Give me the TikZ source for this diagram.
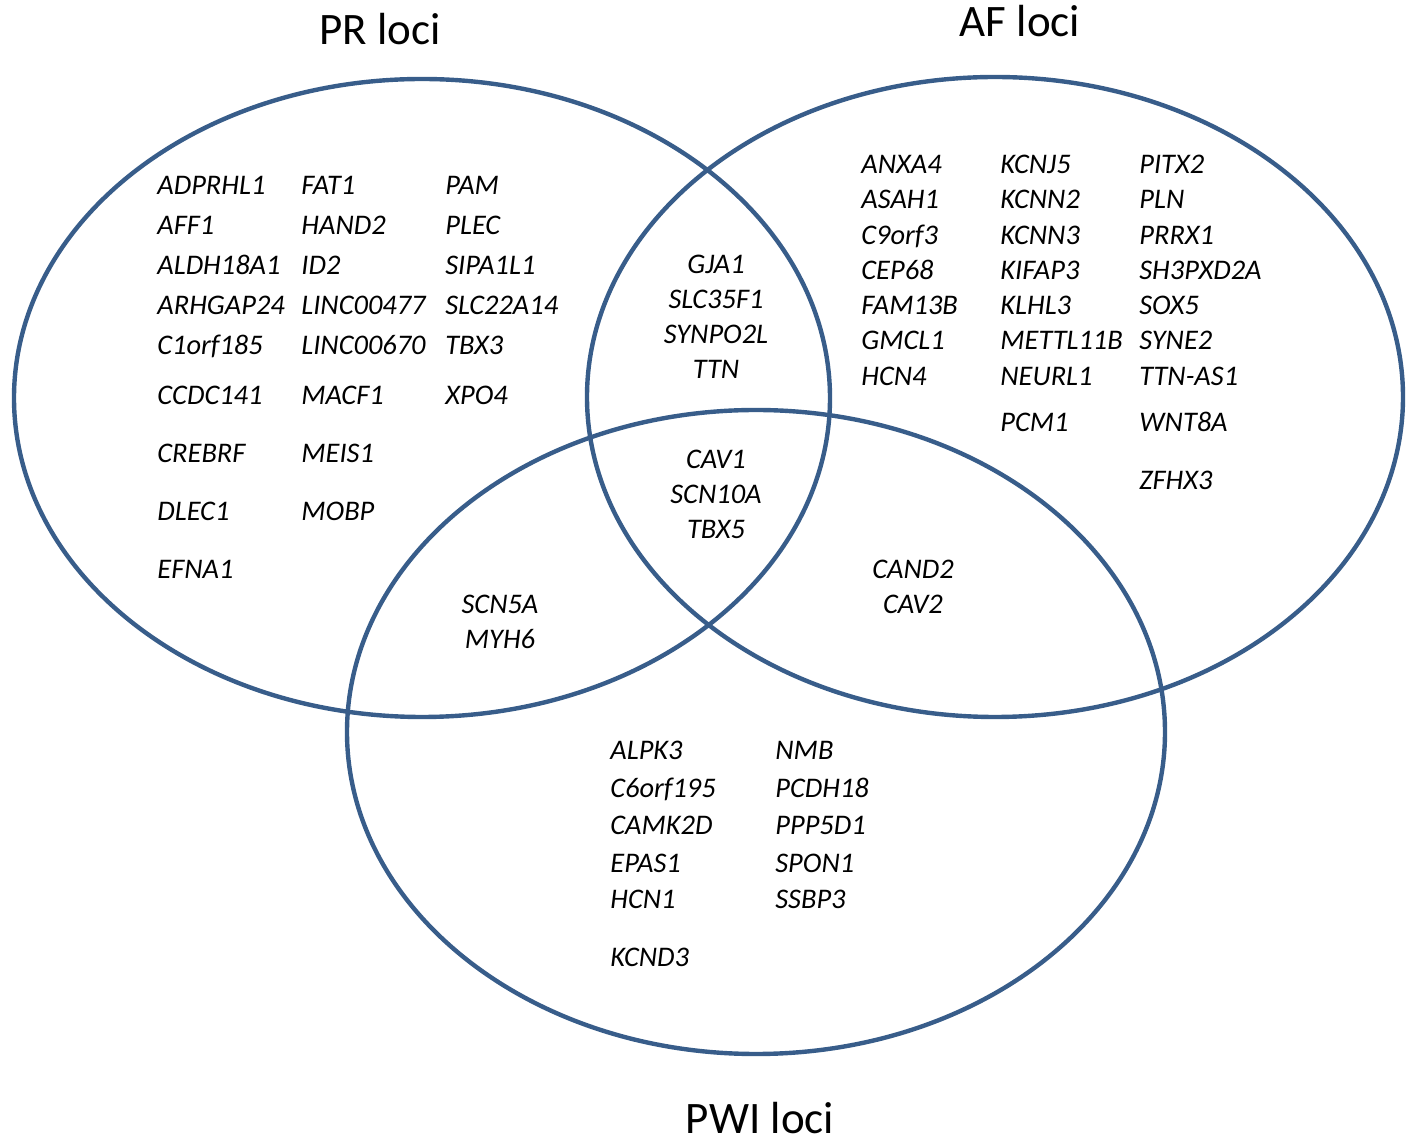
\documentclass[tikz,border=0pt]{standalone}
\usepackage{fontspec}
\setmainfont{Carlito}
\definecolor{vennblue}{RGB}{56,93,138}
\tikzset{
	gene/.style={anchor=base west,inner sep=0pt,font=\itshape\fontsize{14.2}{16}\selectfont},
	genec/.style={gene,anchor=base},
	settitle/.style={anchor=base,inner sep=0pt,font=\fontsize{22.5}{26}\selectfont},
	setline/.style={color=vennblue,line width=2.2pt}
}
\begin{document}
\begin{tikzpicture}[x=0.5pt,y=-0.5pt]
		\useasboundingbox (0,0) rectangle (1415,1143);
		% the three sets
		\draw[setline] (422,398) ellipse (408 and 319);
		\draw[setline] (995,397) ellipse (408 and 320);
		\draw[setline] (756,732) ellipse (409 and 322);
		\node[settitle] (prtitle) at (380,45) {PR loci};
		\node[settitle] (aftitle) at (1020,37) {AF loci};
		\node[settitle] (pwititle) at (760,1134) {PWI loci};
		% PR only
		\foreach \g/\y in {ADPRHL1/195,AFF1/235,ALDH18A1/275,ARHGAP24/315,C1orf185/355,CCDC141/405,CREBRF/463,DLEC1/521,EFNA1/579}
			\node[gene] (\g) at (157,\y) {\g};
		\foreach \g/\y in {FAT1/195,HAND2/235,ID2/275,LINC00477/315,LINC00670/355,MACF1/405,MEIS1/463,MOBP/521}
			\node[gene] (\g) at (301,\y) {\g};
		\foreach \g/\y in {PAM/195,PLEC/235,SIPA1L1/275,SLC22A14/315,TBX3/355,XPO4/405}
			\node[gene] (\g) at (445,\y) {\g};
		% AF only
		\foreach \g/\y in {ANXA4/174,ASAH1/209,C9orf3/245,CEP68/280,FAM13B/315,GMCL1/350,HCN4/386}
			\node[gene] (\g) at (861,\y) {\g};
		\foreach \g/\y in {KCNJ5/174,KCNN2/209,KCNN3/245,KIFAP3/280,KLHL3/315,METTL11B/350,NEURL1/386,PCM1/432}
			\node[gene] (\g) at (1000,\y) {\g};
		\foreach \g/\y in {PITX2/174,PLN/209,PRRX1/245,SH3PXD2A/280,SOX5/315,SYNE2/350,TTN-AS1/386,WNT8A/432,ZFHX3/490}
			\node[gene] (\g) at (1139,\y) {\g};
		% PWI only
		\foreach \g/\y in {ALPK3/760,C6orf195/798,CAMK2D/835,EPAS1/873,HCN1/909,KCND3/967}
			\node[gene] (\g) at (610,\y) {\g};
		\foreach \g/\y in {NMB/760,PCDH18/798,PPP5D1/835,SPON1/873,SSBP3/909}
			\node[gene] (\g) at (775,\y) {\g};
		% overlaps
		\foreach \g/\y in {GJA1/274,SLC35F1/309,SYNPO2L/344,TTN/379,CAV1/469,SCN10A/504,TBX5/539}
			\node[genec] (\g) at (716,\y) {\g};
		\node[genec] (SCN5A) at (500,614) {SCN5A};
		\node[genec] (MYH6) at (500,649) {MYH6};
		\node[genec] (CAND2) at (913,579) {CAND2};
		\node[genec] (CAV2) at (913,614) {CAV2};
	\end{tikzpicture}
\end{document}
